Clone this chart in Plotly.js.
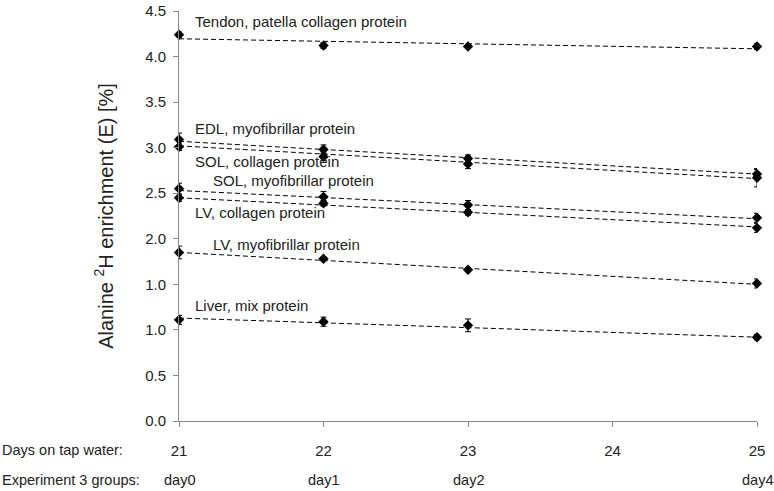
<!DOCTYPE html>
<html>
<head>
<meta charset="utf-8">
<script src="https://cdn.plot.ly/plotly-3.0.1.min.js"></script>
<style>html,body{margin:0;padding:0;background:#fff;}#chart{width:774px;height:491px;}</style>
</head>
<body>
<div id="chart"></div>
<script>
// Days on tap water at which samples were taken
const days = [21, 22, 23, 25];
const groupLabels = ["day0", "day1", "day2", "day4"];
const xTicks = [21, 22, 23, 24, 25];
const yTickVals = [0, 0.5, 1, 1.5, 2, 2.5, 3, 3.5, 4, 4.5];
const yTickText = ["0.0", "0.5", "1.0", "1.0", "2.0", "2.5", "3.0", "3.5", "4.0", "4.5"];

const seriesNames = [
  "Tendon, patella collagen protein",
  "EDL, myofibrillar protein",
  "SOL, collagen protein",
  "SOL, myofibrillar protein",
  "LV, collagen protein",
  "LV, myofibrillar protein",
  "Liver, mix protein"
];
const tendon = [4.24, 4.12, 4.11, 4.11];
const edl = [3.09, 2.98, 2.88, 2.71];
const solCol = [3.01, 2.90, 2.82, 2.67];
const solMyo = [2.55, 2.46, 2.37, 2.23];
const lvCol = [2.45, 2.39, 2.29, 2.12];
const lvMyo = [1.85, 1.78, 1.66, 1.51];
const liver = [1.11, 1.09, 1.05, 0.92];

const tendonErr = [0.03, 0.03, 0.02, 0.03];
const edlErr = [0.07, 0.05, 0.04, 0.05];
const solColErr = [0.04, 0.04, 0.05, 0.10];
const solMyoErr = [0.06, 0.06, 0.05, 0.05];
const lvColErr = [0.04, 0.03, 0.03, 0.05];
const lvMyoErr = [0.07, 0.02, 0.02, 0.05];
const liverErr = [0.05, 0.05, 0.07, 0.03];

// linear trend lines: value at day 21 and at day 25
const trendX = [21, 25];
const tendonTrend = [4.195, 4.085];
const edlTrend = [3.07, 2.71];
const solColTrend = [3.02, 2.66];
const solMyoTrend = [2.53, 2.22];
const lvColTrend = [2.45, 2.13];
const lvMyoTrend = [1.85, 1.50];
const liverTrend = [1.13, 0.92];

// label anchors (x in days, y in enrichment units)
const labelX = [21.095, 21.095, 21.095, 21.22, 21.095, 21.22, 21.095];
const labelY = [4.385, 3.21, 2.85, 2.64, 2.29, 1.94, 1.27];

const values = [tendon, edl, solCol, solMyo, lvCol, lvMyo, liver];
const errs = [tendonErr, edlErr, solColErr, solMyoErr, lvColErr, lvMyoErr, liverErr];
const trends = [tendonTrend, edlTrend, solColTrend, solMyoTrend, lvColTrend, lvMyoTrend, liverTrend];

const traces = [];
for (let i = 0; i < values.length; i++) {
  traces.push({
    x: trendX, y: trends[i], mode: "lines", type: "scatter",
    line: {color: "#000", width: 1, dash: "5px,3px"},
    hoverinfo: "skip", showlegend: false, cliponaxis: false
  });
  traces.push({
    x: days, y: values[i], mode: "markers", type: "scatter", name: seriesNames[i],
    marker: {symbol: "diamond", size: 8, color: "#000"},
    error_y: {type: "data", array: errs[i], visible: true, color: "#000", thickness: 1, width: 3},
    showlegend: false, cliponaxis: false
  });
}

const font = {family: "Liberation Sans, Arial, sans-serif", color: "#222"};
const annotations = [];
for (let i = 0; i < seriesNames.length; i++) {
  annotations.push({
    x: labelX[i], y: labelY[i], xref: "x", yref: "y", text: seriesNames[i],
    showarrow: false, xanchor: "left", yanchor: "middle",
    font: Object.assign({size: 15}, font)
  });
}
annotations.push({x: 0, xref: "paper", xshift: -179, y: -0.07, yref: "paper",
  text: "Days on tap water:", showarrow: false, xanchor: "left", yanchor: "middle",
  font: Object.assign({size: 14.5}, font)});
annotations.push({x: 0, xref: "paper", xshift: -179, y: -0.145, yref: "paper",
  text: "Experiment 3 groups:", showarrow: false, xanchor: "left", yanchor: "middle",
  font: Object.assign({size: 14.5}, font)});
for (let i = 0; i < days.length; i++) {
  annotations.push({x: days[i], xref: "x", y: -0.145, yref: "paper", text: groupLabels[i],
    showarrow: false, xanchor: "center", yanchor: "middle",
    font: Object.assign({size: 14.5}, font)});
}

const layout = {
  width: 774, height: 491,
  margin: {l: 179, r: 17, t: 11, b: 70},
  paper_bgcolor: "#fff", plot_bgcolor: "#fff",
  font: font,
  showlegend: false,
  xaxis: {
    range: [21, 25], tickvals: xTicks, ticktext: xTicks.map(String),
    showgrid: false, zeroline: false, showline: true, linecolor: "#888", linewidth: 1,
    ticks: "outside", ticklen: 5, tickcolor: "#888", ticklabelstandoff: 11,
    tickfont: {size: 15, family: font.family, color: "#222"}
  },
  yaxis: {
    range: [0, 4.5], tickvals: yTickVals, ticktext: yTickText,
    showgrid: false, zeroline: false, showline: true, linecolor: "#888", linewidth: 1,
    ticks: "outside", ticklen: 5, tickcolor: "#888", ticklabelstandoff: 4,
    tickfont: {size: 15, family: font.family, color: "#222"},
    title: {text: "Alanine <sup>2</sup>H enrichment (E) [%]", standoff: 26,
      font: {size: 20, family: font.family, color: "#222"}}
  },
  annotations: annotations
};

Plotly.newPlot("chart", traces, layout, {displayModeBar: false, staticPlot: true});
</script>
</body>
</html>
